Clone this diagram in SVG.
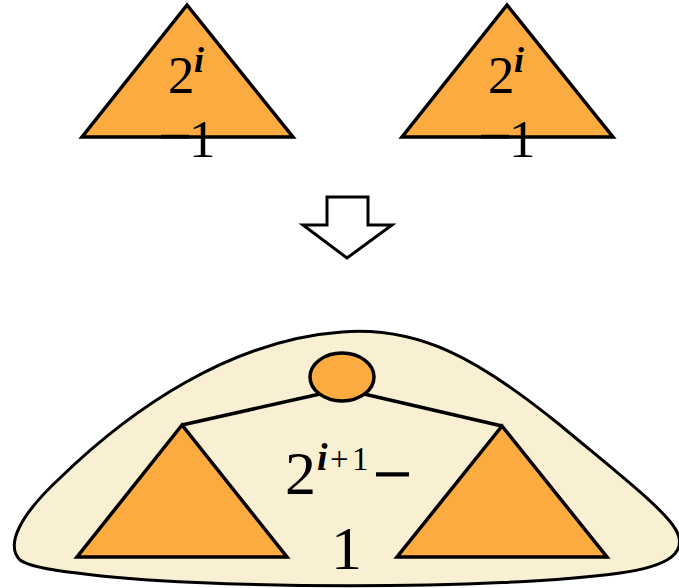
<svg xmlns="http://www.w3.org/2000/svg" width="679" height="588" viewBox="0 0 679 588">
<style>
.tri{fill:#FCAB41;stroke:#000;stroke-width:3.5;stroke-linejoin:miter}
.lbl{font-family:"Liberation Serif","Times New Roman",serif;fill:#000}
.dash{font-family:"Liberation Serif","Times New Roman",serif;fill:#000;stroke:#000;stroke-width:1.2}
.sup{font-family:"Liberation Serif","Times New Roman",serif;font-weight:bold;font-style:italic;fill:#000}
.edge{stroke:#000;stroke-width:3.5;fill:none}
</style>
<rect width="679" height="588" fill="#fff"/>
<g id="tree-left">
<polygon class="tri" points="187,5 82,137 293,137"/>
<text class="lbl" x="168" y="93" font-size="53">2</text>
<text class="sup" x="194" y="72" font-size="36">i</text>
<text class="dash" x="162" y="149" font-size="52">–</text>
<text class="lbl" x="189" y="157" font-size="53">1</text>
</g>
<g id="tree-right">
<polygon class="tri" points="507,5 402,137 613,137"/>
<text class="lbl" x="488" y="93" font-size="53">2</text>
<text class="sup" x="514" y="72" font-size="36">i</text>
<text class="dash" x="482" y="149" font-size="52">–</text>
<text class="lbl" x="509" y="157" font-size="53">1</text>
</g>
<g id="arrow">
<polygon points="327,197 368,197 368,225 392,225 347,258 303,225 327,225" fill="#fff" stroke="#000" stroke-width="3"/>
</g>
<g id="merged">
<path d="M 20,560 C 5,545 20,515 60,478 C 130,410 230,340 342,332 C 420,326 480,360 560,425 C 620,475 665,510 676,530 C 688,552 670,566 620,573 C 500,590 200,590 77,573 C 50,570 28,566 20,560 Z" fill="#F9EFD3" stroke="#000" stroke-width="3"/>
</g>
<g id="connectors">
<line class="edge" x1="320" y1="394" x2="182" y2="425"/>
<line class="edge" x1="364" y1="394" x2="502" y2="426"/>
</g>
<g id="root">
<ellipse cx="342" cy="377" rx="32" ry="24" fill="#FCAB41" stroke="#000" stroke-width="3.5"/>
</g>
<g id="subtree-left">
<polygon class="tri" points="182,425 77,557 287,557"/>
</g>
<g id="subtree-right">
<polygon class="tri" points="502,426 397,557 607,557"/>
</g>
<g id="merged-label">
<text class="lbl" x="285" y="494" font-size="62">2</text>
<text class="sup" x="317" y="470" font-size="38">i</text>
<text class="lbl" x="330" y="470" font-size="33">+</text>
<text class="lbl" x="352" y="470" font-size="33">1</text>
<text class="dash" x="377" y="489" font-size="62">–</text>
<text class="lbl" x="331" y="569" font-size="62">1</text>
</g>
</svg>
